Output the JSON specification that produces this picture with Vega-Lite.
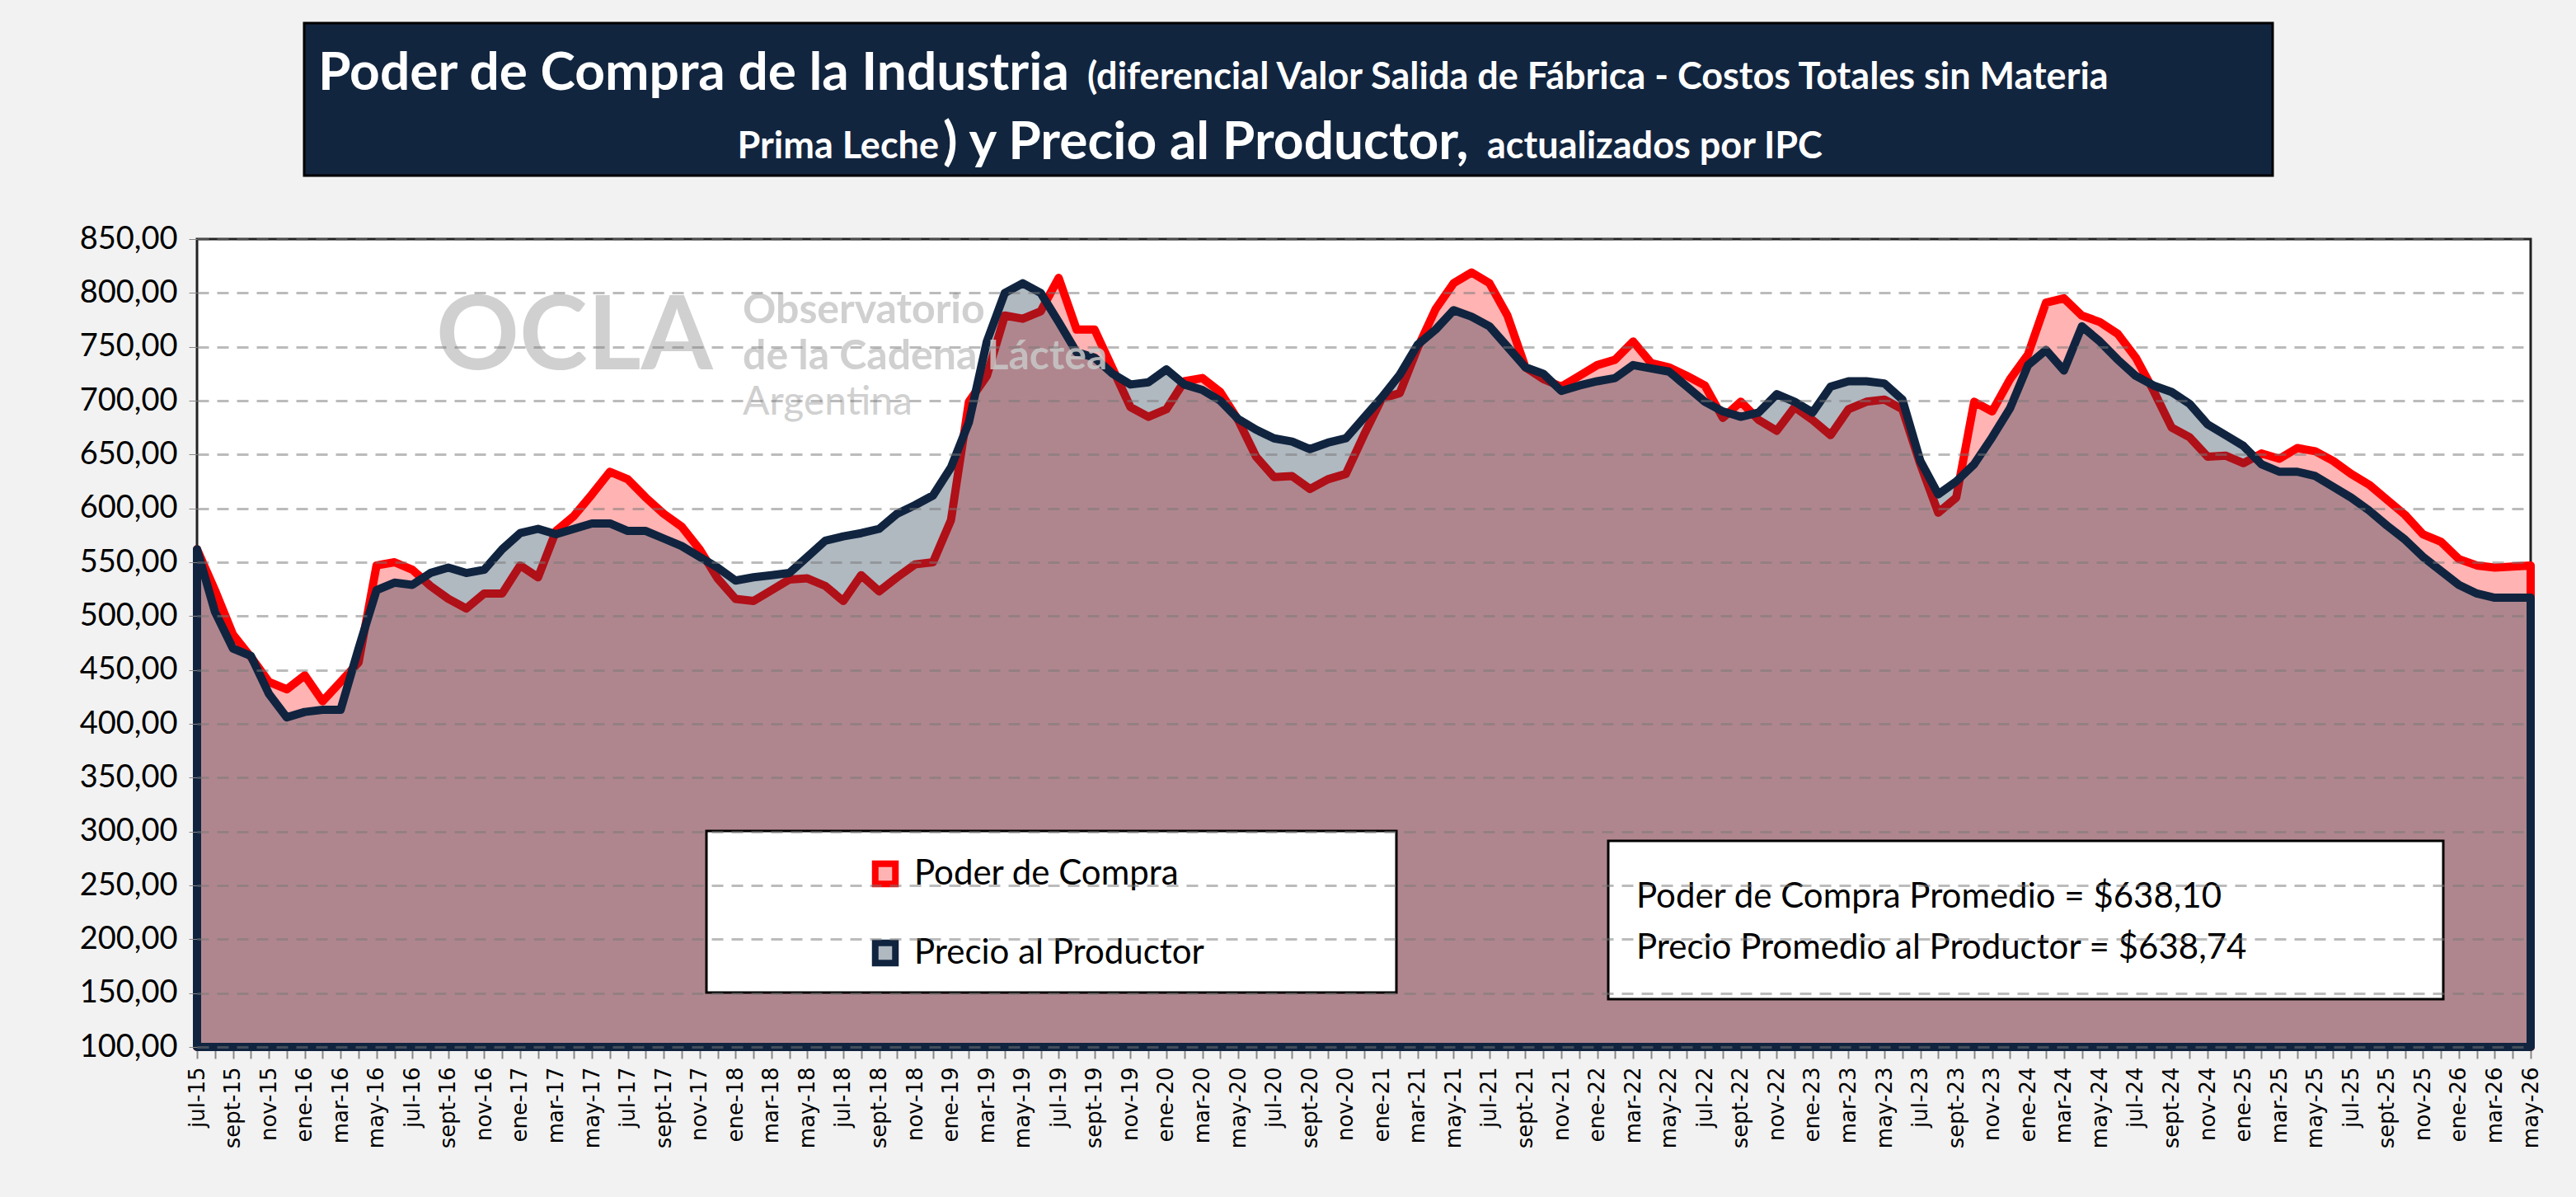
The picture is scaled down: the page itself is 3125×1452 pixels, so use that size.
{
"$schema":"https://vega.github.io/schema/vega-lite/v6.json",
"width":2831,"height":980,"autosize":"none",
"padding":{"left":239,"top":290,"right":55,"bottom":182},
"background":"#f2f2f2",
"config":{"view":{"fill":"white","stroke":"#222","strokeWidth":3}},
"datasets":{"d":[
{"t":"jul-15","pc":562,"pp":562},{"t":"ago-15","pc":524,"pp":504},{"t":"sept-15","pc":483,"pp":470},{"t":"oct-15","pc":462,"pp":463},{"t":"nov-15","pc":439,"pp":428},{"t":"dic-15","pc":432,"pp":406},
{"t":"ene-16","pc":445,"pp":411},{"t":"feb-16","pc":421,"pp":413},{"t":"mar-16","pc":439,"pp":413},{"t":"abr-16","pc":457,"pp":470},{"t":"may-16","pc":547,"pp":524},{"t":"jun-16","pc":550,"pp":531},
{"t":"jul-16","pc":543,"pp":529},{"t":"ago-16","pc":528,"pp":540},{"t":"sept-16","pc":516,"pp":545},{"t":"oct-16","pc":507,"pp":540},{"t":"nov-16","pc":521,"pp":543},{"t":"dic-16","pc":521,"pp":562},
{"t":"ene-17","pc":547,"pp":577},{"t":"feb-17","pc":536,"pp":581},{"t":"mar-17","pc":579,"pp":576},{"t":"abr-17","pc":593,"pp":581},{"t":"may-17","pc":613,"pp":586},{"t":"jun-17","pc":634,"pp":586},
{"t":"jul-17","pc":627,"pp":579},{"t":"ago-17","pc":610,"pp":579},{"t":"sept-17","pc":595,"pp":572},{"t":"oct-17","pc":583,"pp":565},{"t":"nov-17","pc":562,"pp":555},{"t":"dic-17","pc":535,"pp":545},
{"t":"ene-18","pc":516,"pp":533},{"t":"feb-18","pc":514,"pp":536},{"t":"mar-18","pc":524,"pp":538},{"t":"abr-18","pc":534,"pp":540},{"t":"may-18","pc":535,"pp":555},{"t":"jun-18","pc":528,"pp":570},
{"t":"jul-18","pc":514,"pp":574},{"t":"ago-18","pc":538,"pp":577},{"t":"sept-18","pc":523,"pp":581},{"t":"oct-18","pc":536,"pp":595},{"t":"nov-18","pc":548,"pp":603},{"t":"dic-18","pc":550,"pp":612},
{"t":"ene-19","pc":589,"pp":638},{"t":"feb-19","pc":699,"pp":680},{"t":"mar-19","pc":723,"pp":755},{"t":"abr-19","pc":779,"pp":800},{"t":"may-19","pc":776,"pp":809},{"t":"jun-19","pc":783,"pp":800},
{"t":"jul-19","pc":814,"pp":773},{"t":"ago-19","pc":766,"pp":745},{"t":"sept-19","pc":766,"pp":740},{"t":"oct-19","pc":730,"pp":725},{"t":"nov-19","pc":694,"pp":715},{"t":"dic-19","pc":685,"pp":717},
{"t":"ene-20","pc":692,"pp":729},{"t":"feb-20","pc":718,"pp":715},{"t":"mar-20","pc":721,"pp":710},{"t":"abr-20","pc":708,"pp":700},{"t":"may-20","pc":682,"pp":683},{"t":"jun-20","pc":648,"pp":673},
{"t":"jul-20","pc":629,"pp":665},{"t":"ago-20","pc":630,"pp":662},{"t":"sept-20","pc":618,"pp":655},{"t":"oct-20","pc":627,"pp":661},{"t":"nov-20","pc":632,"pp":665},{"t":"dic-20","pc":668,"pp":684},
{"t":"ene-21","pc":702,"pp":703},{"t":"feb-21","pc":707,"pp":724},{"t":"mar-21","pc":749,"pp":752},{"t":"abr-21","pc":785,"pp":766},{"t":"may-21","pc":809,"pp":784},{"t":"jun-21","pc":819,"pp":778},
{"t":"jul-21","pc":809,"pp":769},{"t":"ago-21","pc":779,"pp":750},{"t":"sept-21","pc":731,"pp":731},{"t":"oct-21","pc":720,"pp":725},{"t":"nov-21","pc":713,"pp":709},{"t":"dic-21","pc":723,"pp":714},
{"t":"ene-22","pc":733,"pp":718},{"t":"feb-22","pc":738,"pp":721},{"t":"mar-22","pc":755,"pp":733},{"t":"abr-22","pc":735,"pp":730},{"t":"may-22","pc":731,"pp":727},{"t":"jun-22","pc":723,"pp":713},
{"t":"jul-22","pc":714,"pp":699},{"t":"ago-22","pc":684,"pp":690},{"t":"sept-22","pc":699,"pp":685},{"t":"oct-22","pc":682,"pp":689},{"t":"nov-22","pc":672,"pp":706},{"t":"dic-22","pc":694,"pp":699},
{"t":"ene-23","pc":682,"pp":689},{"t":"feb-23","pc":668,"pp":713},{"t":"mar-23","pc":692,"pp":718},{"t":"abr-23","pc":699,"pp":718},{"t":"may-23","pc":701,"pp":716},{"t":"jun-23","pc":692,"pp":701},
{"t":"jul-23","pc":641,"pp":644},{"t":"ago-23","pc":596,"pp":613},{"t":"sept-23","pc":610,"pp":625},{"t":"oct-23","pc":699,"pp":641},{"t":"nov-23","pc":690,"pp":666},{"t":"dic-23","pc":720,"pp":693},
{"t":"ene-24","pc":743,"pp":733},{"t":"feb-24","pc":791,"pp":747},{"t":"mar-24","pc":795,"pp":728},{"t":"abr-24","pc":779,"pp":769},{"t":"may-24","pc":773,"pp":755},{"t":"jun-24","pc":762,"pp":738},
{"t":"jul-24","pc":740,"pp":723},{"t":"ago-24","pc":709,"pp":714},{"t":"sept-24","pc":675,"pp":708},{"t":"oct-24","pc":666,"pp":697},{"t":"nov-24","pc":648,"pp":678},{"t":"dic-24","pc":649,"pp":668},
{"t":"ene-25","pc":642,"pp":658},{"t":"feb-25","pc":651,"pp":641},{"t":"mar-25","pc":646,"pp":634},{"t":"abr-25","pc":656,"pp":634},{"t":"may-25","pc":653,"pp":630},{"t":"jun-25","pc":644,"pp":620},
{"t":"jul-25","pc":632,"pp":610},{"t":"ago-25","pc":622,"pp":598},{"t":"sept-25","pc":608,"pp":584},{"t":"oct-25","pc":594,"pp":571},{"t":"nov-25","pc":576,"pp":555},{"t":"dic-25","pc":569,"pp":542},
{"t":"ene-26","pc":553,"pp":529},{"t":"feb-26","pc":547,"pp":521},{"t":"mar-26","pc":545,"pp":517},{"t":"abr-26","pc":546,"pp":517},{"t":"may-26","pc":547,"pp":517}
],"one":[{}]},
"layer":[
{"data":{"name":"d"},"mark":{"type":"area","fill":"#ffb3b3","stroke":"#ff0000","strokeWidth":10,"strokeJoin":"round"},
 "encoding":{"x":{"field":"t","type":"ordinal","sort":null,"scale":{"type":"point","padding":0},
   "axis":{"title":null,"labelAngle":-90,"labelFontSize":26,"labelFont":"DejaVu Sans","labelColor":"#000","labelPadding":10,"tickSize":14,"tickColor":"#888","tickWidth":2,"domain":false,"labelOverlap":false,
   "labelExpr":"indexof(['jul','sept','nov','ene','mar','may'], split(datum.value,'-')[0]) >= 0 ? datum.value : ''"}},
  "y":{"field":"pc","type":"quantitative","scale":{"domain":[100,850],"nice":false,"zero":false},
   "axis":{"title":null,"values":[100,150,200,250,300,350,400,450,500,550,600,650,700,750,800,850],"labelExpr":"replace(format(datum.value,'.2f'),'.',',')","labelFontSize":38,"labelFont":"Lato","labelColor":"#000","labelPadding":14,"tickSize":10,"tickColor":"#888","domain":false,
   "grid":true,"gridColor":"#777","gridOpacity":0.5,"gridDash":[14,10],"gridWidth":3,"zindex":1}},
  "y2":{"datum":100}}},
{"data":{"name":"d"},"mark":{"type":"area","fill":"#172e46","fillOpacity":0.34,"stroke":"#10243f","strokeWidth":10,"strokeJoin":"round"},
 "encoding":{"x":{"field":"t","type":"ordinal","sort":null},"y":{"field":"pp","type":"quantitative"},"y2":{"datum":100}}},
{"data":{"name":"one"},"mark":{"type":"text","text":"OCLA","font":"Lato","fontWeight":"bold","fontSize":125,"color":"#c8c8c8","opacity":0.85,"align":"left","baseline":"middle","clip":false},
 "encoding":{"x":{"value":290},"y":{"value":120}}},
{"data":{"name":"one"},"mark":{"type":"text","text":["Observatorio","de la Cadena Láctea"],"font":"Lato","fontWeight":"bold","fontSize":50,"lineHeight":56,"color":"#c8c8c8","opacity":0.85,"align":"left","baseline":"top","clip":false},
 "encoding":{"x":{"value":662},"y":{"value":62}}},
{"data":{"name":"one"},"mark":{"type":"text","text":"Argentina","font":"Lato","fontSize":48,"color":"#d0d0d0","align":"left","baseline":"top","clip":false},
 "encoding":{"x":{"value":662},"y":{"value":175}}},
{"data":{"name":"one"},"mark":{"type":"rect","fill":"#12253f","stroke":"#000","strokeWidth":3,"clip":false},
 "encoding":{"x":{"value":130},"x2":{"value":2518},"y":{"value":-262},"y2":{"value":-77}}},
{"data":{"name":"one"},"mark":{"type":"text","text":"Poder de Compra de la Industria","font":"Lato","fontWeight":"bold","fontSize":64,"color":"white","align":"left","baseline":"middle","clip":false},
 "encoding":{"x":{"value":147},"y":{"value":-200}}},
{"data":{"name":"one"},"mark":{"type":"text","text":"(diferencial Valor Salida de Fábrica - Costos Totales sin Materia","font":"Lato","fontWeight":"bold","fontSize":45,"color":"white","align":"left","baseline":"middle","clip":false},
 "encoding":{"x":{"value":1080},"y":{"value":-196}}},
{"data":{"name":"one"},"mark":{"type":"text","text":"Prima Leche","font":"Lato","fontWeight":"bold","fontSize":45,"color":"white","align":"right","baseline":"middle","clip":false},
 "encoding":{"x":{"value":900},"y":{"value":-112}}},
{"data":{"name":"one"},"mark":{"type":"text","text":") y Precio al Productor,","font":"Lato","fontWeight":"bold","fontSize":64,"color":"white","align":"left","baseline":"middle","clip":false},
 "encoding":{"x":{"value":905},"y":{"value":-116}}},
{"data":{"name":"one"},"mark":{"type":"text","text":"actualizados por IPC","font":"Lato","fontWeight":"bold","fontSize":45,"color":"white","align":"left","baseline":"middle","clip":false},
 "encoding":{"x":{"value":1565},"y":{"value":-112}}},
{"data":{"name":"one"},"mark":{"type":"rect","fill":"white","stroke":"#000","strokeWidth":3},
 "encoding":{"x":{"value":618},"x2":{"value":1455},"y":{"value":718},"y2":{"value":914}}},
{"data":{"name":"one"},"mark":{"type":"square","size":600,"fill":"#ffb3b3","stroke":"#ff0000","strokeWidth":8,"opacity":1},
 "encoding":{"x":{"value":835},"y":{"value":770}}},
{"data":{"name":"one"},"mark":{"type":"square","size":600,"fill":"#b0b8c0","stroke":"#10243f","strokeWidth":8,"opacity":1},
 "encoding":{"x":{"value":835},"y":{"value":866}}},
{"data":{"name":"one"},"mark":{"type":"text","text":"Poder de Compra","font":"Lato","fontSize":42,"color":"#000","align":"left","baseline":"middle"},
 "encoding":{"x":{"value":870},"y":{"value":770}}},
{"data":{"name":"one"},"mark":{"type":"text","text":"Precio al Productor","font":"Lato","fontSize":42,"color":"#000","align":"left","baseline":"middle"},
 "encoding":{"x":{"value":870},"y":{"value":866}}},
{"data":{"name":"one"},"mark":{"type":"rect","fill":"white","stroke":"#000","strokeWidth":3},
 "encoding":{"x":{"value":1712},"x2":{"value":2725},"y":{"value":730},"y2":{"value":922}}},
{"data":{"name":"one"},"mark":{"type":"text","text":["Poder de Compra Promedio = $638,10","Precio Promedio al Productor = $638,74"],"font":"Lato","fontSize":42,"lineHeight":62,"color":"#000","align":"left","baseline":"top"},
 "encoding":{"x":{"value":1746},"y":{"value":778}}}
]
}
